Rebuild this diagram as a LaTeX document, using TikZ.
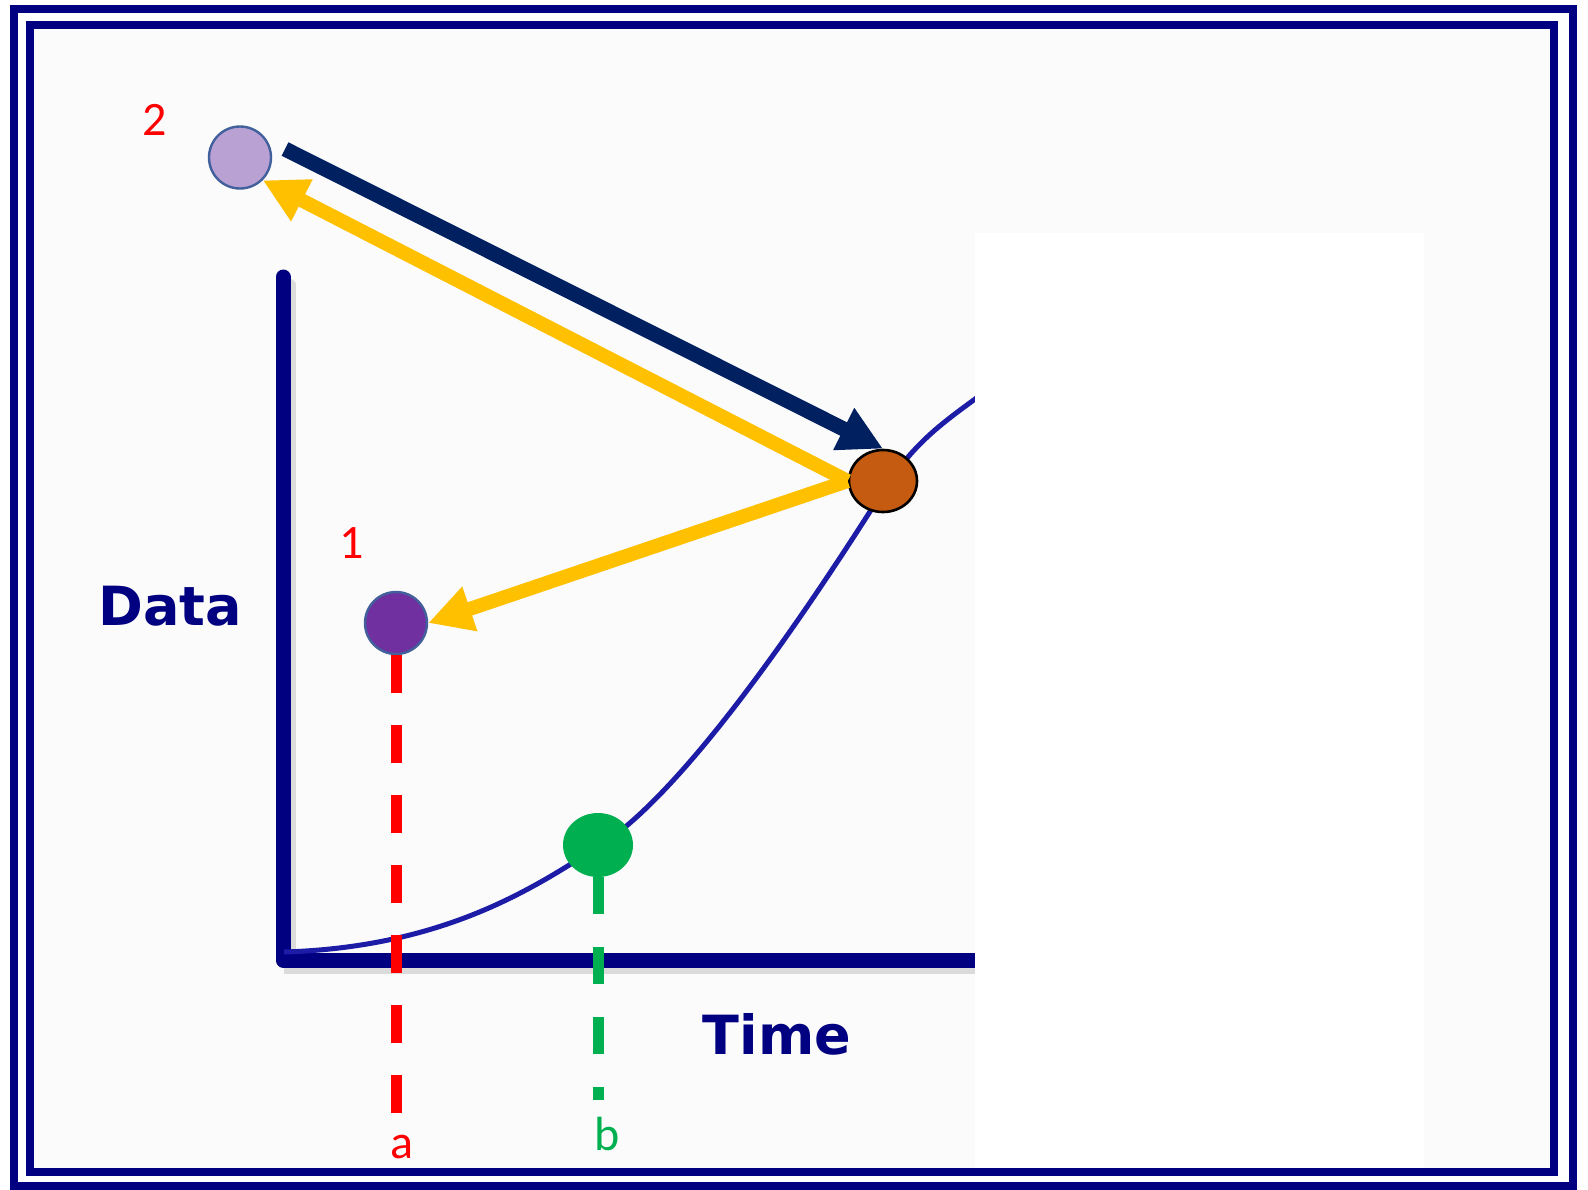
\documentclass[tikz,border=0pt]{standalone}
\usepackage{xcolor}
\usepackage{fontspec}
\usepackage{tikz}
\usetikzlibrary{shapes.geometric, arrows.meta}
\newfontfamily\labelfont{Carlito}
\newfontfamily\axisfont{DejaVu Sans}
\definecolor{framecolor}{HTML}{000080}
\definecolor{axiscolor}{HTML}{000080}
\definecolor{curvecolor}{HTML}{1C1CA6}
\definecolor{navycolor}{HTML}{002060}
\definecolor{ambercolor}{HTML}{FFC000}
\definecolor{lilaccolor}{HTML}{B9A2D3}
\definecolor{plumcolor}{HTML}{7030A0}
\definecolor{rustcolor}{HTML}{C55A11}
\definecolor{leafcolor}{HTML}{00B050}
\definecolor{edgecolor}{HTML}{41609C}
\definecolor{panecolor}{HTML}{FBFBFB}

\begin{document}
\begin{tikzpicture}[x=0.5pt, y=-0.5pt,
    dot/.style={circle, inner sep=0pt, minimum size=31pt, line width=1.2pt},
    oval/.style={ellipse, inner sep=0pt, minimum width=34pt, minimum height=31pt},
    num/.style={anchor=base, text=red, font=\labelfont\fontsize{24}{24}\selectfont},
    axislbl/.style={anchor=base, text=axiscolor,
                    font=\axisfont\bfseries\fontsize{27}{27}\selectfont},
    fat/.style={line width=7.5pt, -{Triangle[length=22pt, width=22pt]}},
    guide/.style={line width=5.5pt, dash pattern=on 19pt off 16pt}]
  \useasboundingbox (0,0) rectangle (1588,1189);
  \fill[white] (0,0) rectangle (1588,1189);
  \fill[panecolor] (30,25) rectangle (1554,1172);
  \draw[gray!45, line width=6pt, line cap=round, opacity=0.6]
    (290,285) -- (290,968) -- (990,968);
  \draw[axiscolor, line width=7.5pt, line cap=round, line join=round]
    (283,277) -- (283,960) -- (990,960);
  \draw[curvecolor, line width=2.5pt]
    (284,952) .. controls (450,947) and (540,883) .. (598,847)
    .. controls (695,787) and (838,562) .. (885,488)
    .. controls (918,437) and (950,418) .. (990,388);
  \fill[white] (975,233) rectangle (1424,1169);
  \draw[framecolor, line width=4pt] (14,8.5) rectangle (1572.5,1185.5);
  \draw[framecolor, line width=4pt] (30,25) rectangle (1554,1172);
  \node[dot, fill=lilaccolor, draw=edgecolor] (lilac) at (240,157.5) {};
  \node[dot, fill=plumcolor, draw=edgecolor] (plum) at (396,623) {};
  \node[oval, fill=rustcolor, draw=black, line width=1.3pt] (rust) at (883,481) {};
  \node[oval, fill=leafcolor, minimum width=35pt, minimum height=32pt]
    (leaf) at (598,845) {};
  \coordinate (navystart) at (285,149);
  \coordinate (aend) at (396,1113);
  \coordinate (bend) at (598,1100);
  \draw[fat, navycolor] (navystart) -- (rust.north);
  \draw[fat, ambercolor, line width=7pt] (rust.west) -- (lilac.south east);
  \draw[fat, ambercolor, line width=7pt] (rust.west) -- (plum.east);
  \draw[guide, red] (plum.south) -- (aend);
  \draw[guide, leafcolor, dash pattern=on 18.5pt off 16.5pt] (leaf.south) -- (bend);
  \node[num] (lbltwo) at (154.5,135) {2};
  \node[num] (lblone) at (352,558) {1};
  \node[num] (lbla) at (402,1158) {a};
  \node[num, text=leafcolor] (lblb) at (607,1150) {b};
  \node[axislbl] (datalbl) at (170,625) {Data};
  \node[axislbl] (timelbl) at (777,1054) {Time};
\end{tikzpicture}
\end{document}
